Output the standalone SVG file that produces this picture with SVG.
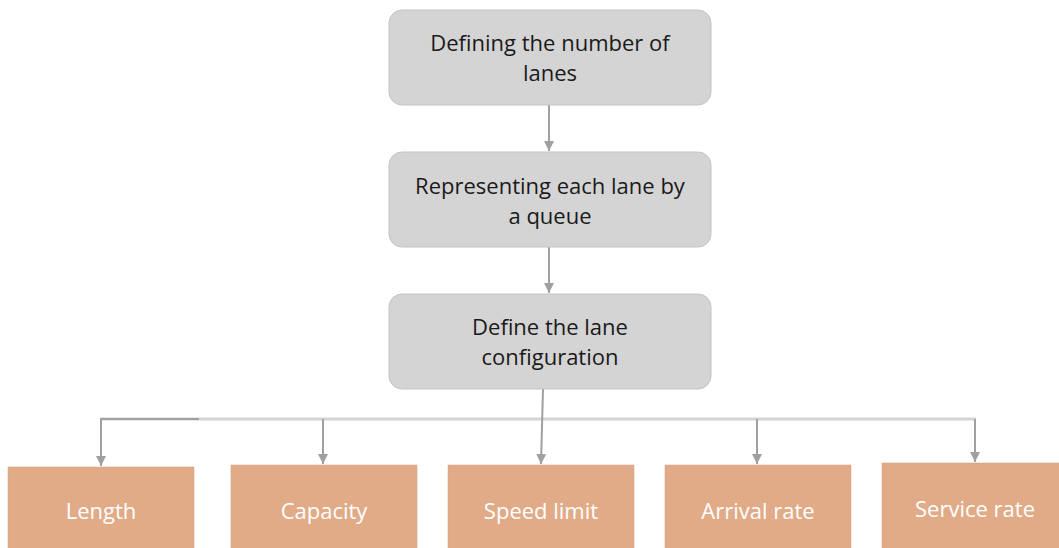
<svg xmlns="http://www.w3.org/2000/svg" width="1059" height="548" viewBox="0 0 1059 548">
<style>
.top{fill:#d4d4d4;stroke:#c4c4c4;stroke-width:1}
.bot{fill:#e1ab88;stroke:#d0a080;stroke-width:0.5}
.t{font-family:"Open Sans","Liberation Sans",sans-serif;font-size:22px;fill:#1a1a1a;text-anchor:middle}
.w{font-family:"Open Sans","Liberation Sans",sans-serif;font-size:22px;fill:#ffffff;text-anchor:middle}
.c{stroke:#a0a0a0;stroke-width:2;fill:none}
.h{stroke:#d4d4d4;stroke-width:3;fill:none}
</style>
<defs>
<marker id="ah" viewBox="0 0 10 10" refX="10" refY="5" markerWidth="5" markerHeight="5" orient="auto" markerUnits="strokeWidth">
<path d="M0,0 L10,5 L0,10 z" fill="#a0a0a0"/>
</marker>
</defs>
<g id="connectors">
<line class="c" x1="549" y1="105" x2="549" y2="151" marker-end="url(#ah)"/>
<line class="c" x1="549" y1="247" x2="549" y2="293" marker-end="url(#ah)"/>
<line class="h" x1="100" y1="419" x2="976" y2="419"/>
<line class="c" x1="543" y1="389" x2="541" y2="464" marker-end="url(#ah)"/>
<polyline class="c" points="199,419 101,419 101,466" marker-end="url(#ah)"/>
<line class="c" x1="323" y1="419" x2="323" y2="464" marker-end="url(#ah)"/>
<line class="c" x1="757" y1="419" x2="757" y2="464" marker-end="url(#ah)"/>
<polyline class="c" points="975,419 975,462" marker-end="url(#ah)"/>
</g>
<g id="n1">
<rect class="top" x="389" y="10" width="322" height="95" rx="13"/>
<text class="t" x="550" y="51">Defining the number of</text>
<text class="t" x="550" y="81">lanes</text>
</g>
<g id="n2">
<rect class="top" x="389" y="152" width="322" height="95" rx="13"/>
<text class="t" x="550" y="194">Representing each lane by</text>
<text class="t" x="550" y="224">a queue</text>
</g>
<g id="n3">
<rect class="top" x="389" y="294" width="322" height="95" rx="13"/>
<text class="t" x="550" y="335">Define the lane</text>
<text class="t" x="550" y="365">configuration</text>
</g>
<g id="n4">
<rect class="bot" x="8" y="467" width="186" height="82"/>
<text class="w" x="101" y="519">Length</text>
</g>
<g id="n5">
<rect class="bot" x="231" y="465" width="186" height="84"/>
<text class="w" x="324" y="519">Capacity</text>
</g>
<g id="n6">
<rect class="bot" x="448" y="465" width="186" height="84"/>
<text class="w" x="541" y="519">Speed limit</text>
</g>
<g id="n7">
<rect class="bot" x="665" y="465" width="186" height="84"/>
<text class="w" x="758" y="519">Arrival rate</text>
</g>
<g id="n8">
<rect class="bot" x="882" y="463" width="178" height="86"/>
<text class="w" x="975" y="517">Service rate</text>
</g>
</svg>
